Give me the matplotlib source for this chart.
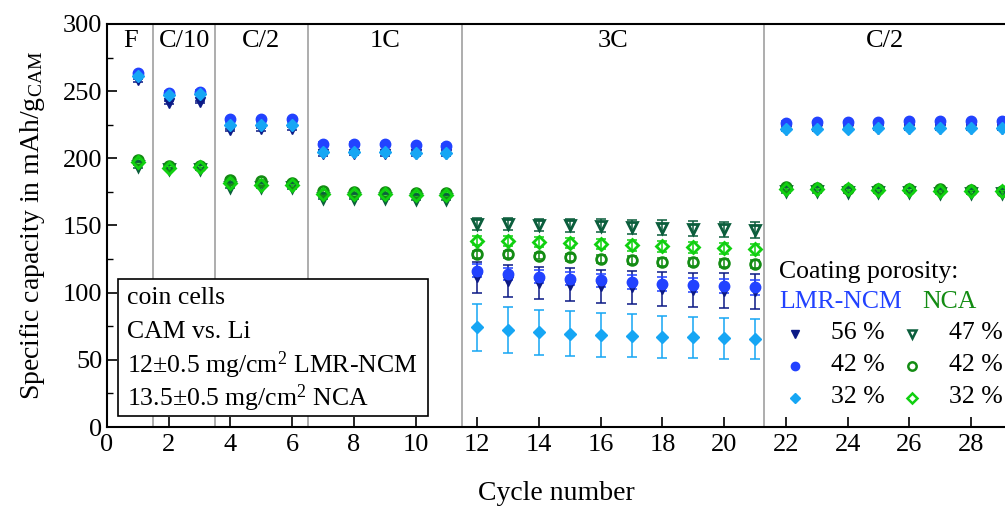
import matplotlib
matplotlib.use("Agg")
import matplotlib.pyplot as plt
import numpy as np

plt.rcParams['font.family'] = ['Liberation Serif', 'DejaVu Serif']
plt.rcParams['mathtext.fontset'] = 'custom'
plt.rcParams['mathtext.rm'] = 'Liberation Serif'
plt.rcParams['mathtext.it'] = 'Liberation Serif:italic'

cycles = list(range(1, 30))

lmr56 = [258, 241.5, 242, 221, 221.5, 222, 203, 203.5, 203, 203, 203,
         111.3, 108.6, 107.1, 105.9, 104.6, 103.9, 103.0, 102.3, 101.6, 100.9,
         221, 221.5, 222, 222, 222, 222, 222, 222]
lmr42 = [263.5, 249, 249.5, 229, 229, 229, 211, 211, 210.5, 210, 209.5,
         116.5, 113.9, 111.9, 110.4, 109.2, 108.0, 106.7, 105.5, 104.8, 104.0,
         226.5, 227, 227, 227, 227.5, 227.5, 227.5, 227.5]
lmr32 = [261, 247.5, 248, 225, 225, 225, 205, 204.5, 204.5, 204, 204,
         74.2, 72.0, 70.5, 69.5, 68.7, 68.0, 67.3, 66.7, 66.0, 65.5,
         221.5, 222, 222, 222.5, 222.5, 222.5, 222.5, 222.5]
nca47 = [194, 192, 192, 179, 179, 178.5, 170.5, 170.5, 170.5, 170, 170,
         151.2, 151.2, 150.6, 150.1, 149.9, 149.1, 148.4, 147.6, 147.2, 146.7,
         175.5, 175.5, 175, 175, 175, 174.5, 174.5, 174.5]
nca42 = [199, 194, 194, 184, 183, 182, 175.5, 175, 175, 174.5, 174.5,
         128.6, 128.6, 127.3, 126.3, 125.1, 124.1, 123.1, 122.6, 121.9, 121.2,
         178.5, 178, 177.5, 177.5, 177, 177, 176.5, 176]
nca32 = [197.5, 193, 193.5, 181.5, 180.5, 180, 173.5, 173.5, 173.5, 173, 173,
         138.7, 138.4, 137.5, 136.7, 136.0, 135.2, 134.5, 133.7, 133.0, 132.2,
         177.5, 177.5, 177, 176.5, 176.5, 176, 175.5, 175.5]

e_base = [1.0] * 11
e_tail = [1.0] * 8
lmr56_err = e_base + [11.8, 12.0, 12.0, 12.3, 12.3, 12.5, 12.7, 12.7, 12.8, 13.0] + e_tail
lmr42_err = e_base + [4.5, 4.6, 4.8, 4.8, 5.0, 5.0, 5.1, 5.2, 5.3, 5.4] + e_tail
lmr32_err = e_base + [17.4, 17.1, 16.8, 16.5, 16.3, 15.9, 15.7, 15.5, 15.4, 15.1] + e_tail
nca47_err = e_base + [4.2, 4.3, 4.5, 4.8, 5.0, 5.1, 5.4, 5.6, 5.7, 6.0] + e_tail
nca42_err = e_base + [2.5, 2.5, 2.6, 2.7, 2.8, 2.9, 3.0, 3.0, 3.1, 3.2] + e_tail
nca32_err = e_base + [3.5, 3.5, 3.6, 3.7, 3.8, 3.9, 4.0, 4.0, 4.1, 4.2] + e_tail

region_bounds = [1.5, 3.5, 6.5, 11.5, 21.3]
region_labels = ["F", "C/10", "C/2", "1C", "3C", "C/2"]

legend_labels = ["56 %", "42 %", "32 %", "47 %", "42 %", "32 %"]

c_navy = "#0c1a86"
c_blue = "#2242ff"
c_lblue = "#16a6f4"
c_dgreen = "#0b5e3c"
c_green = "#138c13"
c_lgreen = "#10d010"

FS = 18.5

W, H = 1005, 507
fig = plt.figure(figsize=(W / 100, H / 100), dpi=100)
ax = fig.add_axes([107 / W, (H - 427) / H, (W - 107) / W, (427 - 24) / H])
xmax = 29.1
ax.set_xlim(0, xmax)
ax.set_ylim(0, 300)

for b in region_bounds:
    ax.axvline(b, color="#a0a0a0", lw=1.2, zorder=1)

edges = [0] + region_bounds + [xmax]
for i, lab in enumerate(region_labels):
    ax.text((edges[i] + edges[i + 1]) / 2, 287, lab, ha="center", va="center",
            fontsize=19, zorder=5)

series = [
    (lmr56, lmr56_err, "v", c_navy, True),
    (lmr42, lmr42_err, "o", c_blue, True),
    (lmr32, lmr32_err, "D", c_lblue, True),
    (nca47, nca47_err, "v", c_dgreen, False),
    (nca42, nca42_err, "o", c_green, False),
    (nca32, nca32_err, "D", c_lgreen, False),
]
for k, (y, e, m, c, filled) in enumerate(series):
    ms = 7.5 if m != "D" else 6.5
    ax.errorbar(cycles, y, yerr=e, fmt="none", ecolor=c, elinewidth=1.3,
                capsize=3.7, capthick=1.3, alpha=0.85, zorder=3 + k * 0.1)
    if filled:
        ax.plot(cycles, y, ls="none", marker=m, ms=ms, color=c, mec=c,
                zorder=4 + k * 0.1)
    else:
        ax.plot(cycles, y, ls="none", marker=m, ms=ms - 0.5, mfc="none", mec=c,
                mew=2.0, zorder=4 + k * 0.1)

ax.set_xticks(np.arange(0, 29, 2))
ax.set_yticks(np.arange(0, 301, 50))
ax.set_yticks(np.arange(25, 300, 50), minor=True)
ax.tick_params(axis="both", which="both", direction="in", labelsize=19,
               top=False, right=False)
ax.tick_params(axis="both", which="major", length=7, width=1.2)
ax.tick_params(axis="y", which="minor", length=4, width=1.0)
ax.tick_params(axis="x", pad=5)
ax.spines["right"].set_visible(False)
for s in ["left", "bottom", "top"]:
    ax.spines[s].set_linewidth(1.5)

ax.set_xlabel("Cycle number", fontsize=20, labelpad=18)
ax.set_ylabel(r"Specific capacity in mAh/g$_{\mathrm{CAM}}$", fontsize=20, labelpad=11)

def fx(px):
    return px / W

def fy(py):
    return 1 - py / H

from matplotlib.patches import Rectangle
fig.patches.append(Rectangle((fx(118), fy(416)), fx(428) - fx(118), fy(279) - fy(416),
                             transform=fig.transFigure, fill=True, fc="white",
                             ec="black", lw=1.2, zorder=6))
info = ["coin cells", "CAM vs. Li",
        r"12$\pm$0.5 mg/cm$^2$ LMR-NCM",
        r"13.5$\pm$0.5 mg/cm$^2$ NCA"]
for i, t in enumerate(info):
    fig.text(fx(127), fy(298 + i * 33.5), t, fontsize=FS, va="center", ha="left",
             zorder=7)

fig.text(fx(779), fy(272), "Coating porosity:", fontsize=FS, va="center", ha="left")
fig.text(fx(779), fy(302), "LMR-NCM", fontsize=FS, va="center", ha="left", color=c_blue)
fig.text(fx(922), fy(302), "NCA", fontsize=FS, va="center", ha="left", color=c_green)
rows_y = [333, 365, 397]
for i in range(3):
    y, e, m, c, filled = series[i]
    fig.lines.append(plt.Line2D([fx(795)], [fy(rows_y[i] + 1)], transform=fig.transFigure,
                                marker=m, ls="none", ms=6 if m != "D" else 5.5,
                                color=c, mec=c))
    fig.text(fx(831), fy(rows_y[i]), legend_labels[i], fontsize=FS, va="center", ha="left")
for i in range(3):
    y, e, m, c, filled = series[i + 3]
    fig.lines.append(plt.Line2D([fx(912)], [fy(rows_y[i] + 1)], transform=fig.transFigure,
                                marker=m, ls="none", ms=6 if m != "D" else 5.5,
                                mfc="none", mec=c, mew=1.8))
    fig.text(fx(949), fy(rows_y[i]), legend_labels[i + 3], fontsize=FS, va="center", ha="left")

fig.savefig("out.png", dpi=100)
